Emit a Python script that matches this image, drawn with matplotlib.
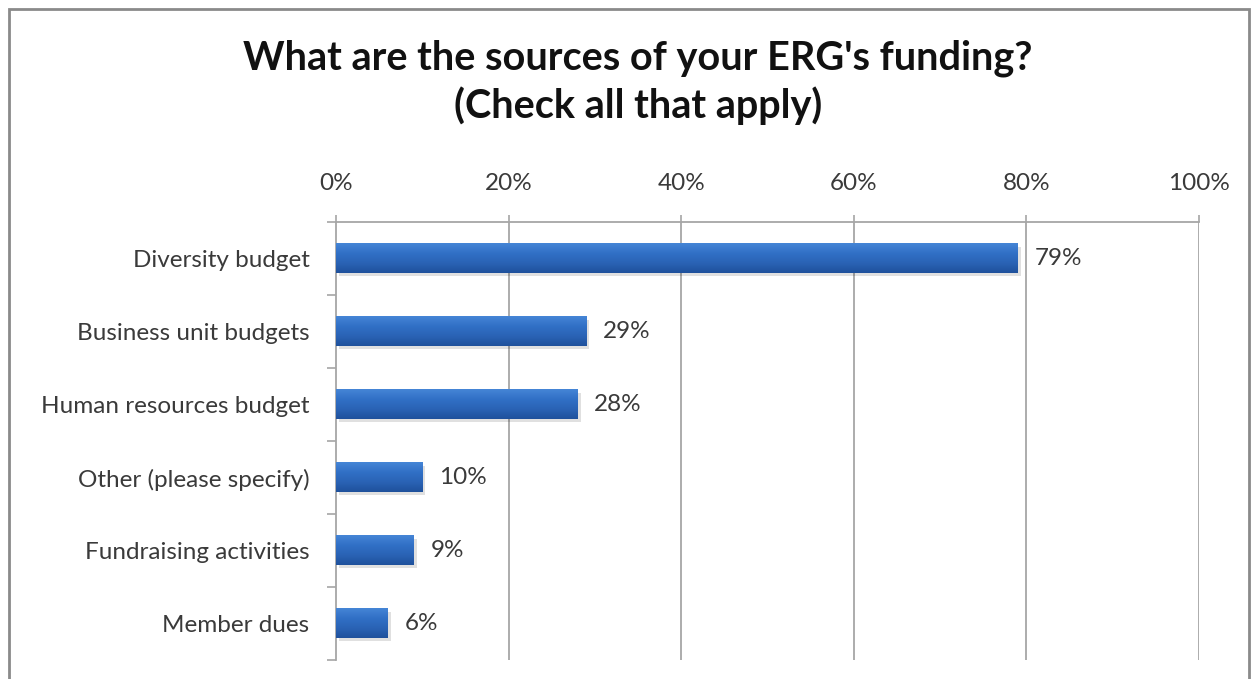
import matplotlib
matplotlib.use("Agg")
import matplotlib.pyplot as plt
import matplotlib.transforms as mtransforms
from matplotlib.colors import LinearSegmentedColormap
from matplotlib.patches import Rectangle
import numpy as np

categories = [
    "Diversity budget",
    "Business unit budgets",
    "Human resources budget",
    "Other (please specify)",
    "Fundraising activities",
    "Member dues",
]
values = [79, 29, 28, 10, 9, 6]
x_ticks = [0, 20, 40, 60, 80, 100]

plt.rcParams["font.family"] = ["Lato", "DejaVu Sans"]

fig = plt.figure(figsize=(12.54, 6.79), dpi=100)
fig.patch.set_facecolor("white")

# outer chart frame
fig.patches.append(Rectangle((9 / 1254, -0.05), 1240 / 1254, 0.05 + 1 - 9 / 679,
                             transform=fig.transFigure, fill=False,
                             edgecolor="#8a8a8a", linewidth=2))

ax = fig.add_axes([336 / 1254, 1 - 660 / 679, (1199 - 336) / 1254, (660 - 222) / 679])

ypos = np.arange(len(categories))
bar_h = 0.4
grid_color = "#a6a6a6"
text_color = "#3a3a3a"

bar_cmap = LinearSegmentedColormap.from_list(
    "bar", ["#4585d6", "#3170c6", "#2a63b5", "#1f519c"])
grad = np.linspace(0, 1, 64).reshape(-1, 1)
shadow_tr = mtransforms.offset_copy(ax.transData, fig=fig, x=3, y=-3, units="dots")

for y, v in zip(ypos, values):
    ax.add_patch(Rectangle((0, y - bar_h / 2), v, bar_h, facecolor="#000000",
                           alpha=0.12, linewidth=0, transform=shadow_tr, zorder=2))
    ax.imshow(grad, cmap=bar_cmap, aspect="auto", origin="upper",
              extent=(0, v, y + bar_h / 2, y - bar_h / 2), zorder=3,
              interpolation="bilinear")
    ax.annotate(f"{v}%", xy=(v, y), xytext=(12, 0), textcoords="offset points",
                va="center", ha="left", fontsize=17.5, color=text_color, zorder=4)

ax.set_xlim(0, 100)
ax.set_ylim(len(categories) - 0.5, -0.5)

ax.xaxis.tick_top()
ax.set_xticks(x_ticks)
ax.set_xticklabels([f"{t}%" for t in x_ticks])
ax.tick_params(axis="x", which="major", length=5, width=1.2, color=grid_color,
               pad=15, labelsize=17.5, labelcolor=text_color)

ax.set_yticks(ypos)
ax.set_yticklabels(categories)
ax.set_yticks(np.arange(len(categories) + 1) - 0.5, minor=True)
ax.tick_params(axis="y", which="major", length=0, pad=19, labelsize=17.5,
               labelcolor=text_color)
ax.tick_params(axis="y", which="minor", length=6.5, width=1.2, color=grid_color)

for t in x_ticks[1:]:
    ax.axvline(t, color=grid_color, linewidth=1.3, zorder=1)

for side in ["right", "bottom"]:
    ax.spines[side].set_visible(False)
for side in ["top", "left"]:
    ax.spines[side].set_color(grid_color)
    ax.spines[side].set_linewidth(1.3)

fig.text(638 / 1254, 1 - 82 / 679,
         "What are the sources of your ERG's funding?\n(Check all that apply)",
         ha="center", va="center", fontsize=28.5, fontweight="bold",
         color="#111111", linespacing=1.3)

fig.savefig("out.png", dpi=100)
